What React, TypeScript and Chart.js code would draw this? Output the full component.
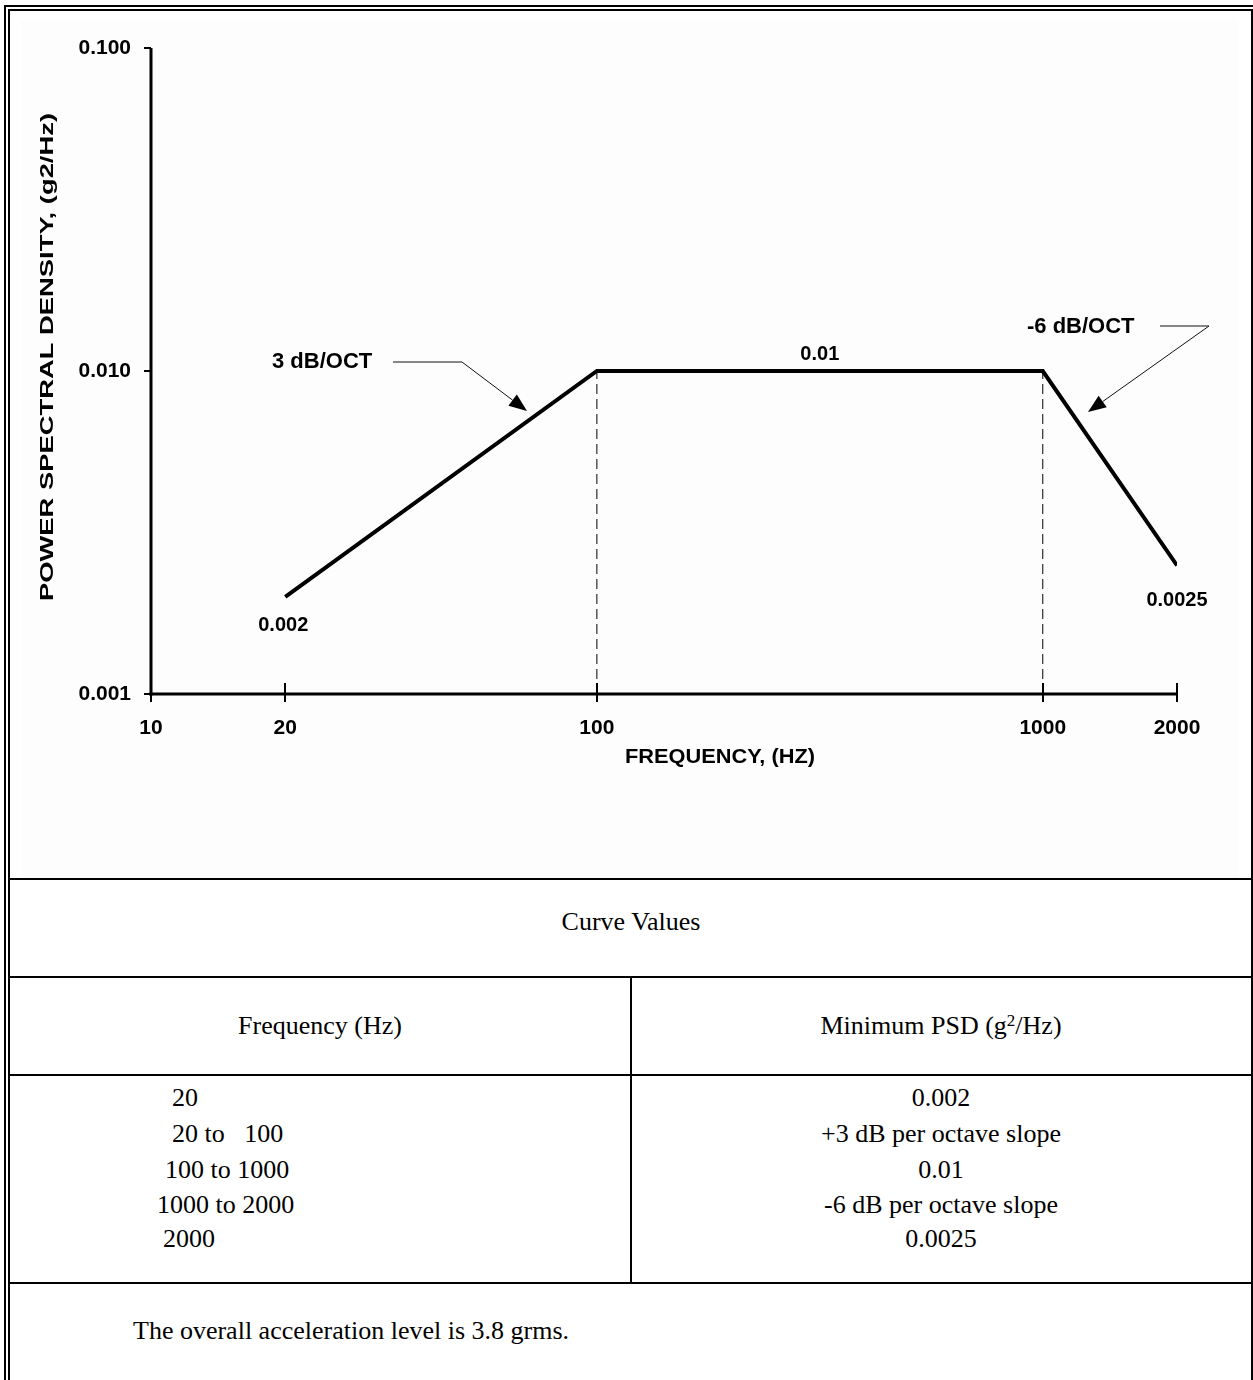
import React, { useEffect, useRef } from "react";
import { Chart, registerables } from "chart.js";

Chart.register(...registerables);

// Test curve breakpoints: frequency (Hz) and minimum PSD (g^2/Hz)
const frequencies = [20, 100, 1000, 2000];
const psdLevels = [0.002, 0.01, 0.01, 0.0025];
// Knee frequencies that get dashed drop lines to the axis
const kneeFrequencies = [100, 1000];
const plateauLevel = 0.01;

const xTicks = [10, 20, 100, 1000, 2000];
const yTicks = [0.001, 0.01, 0.1];
const yTickLabels = ["0.001", "0.010", "0.100"];
const slopeLabels = ["3 dB/OCT", "-6 dB/OCT"];

const tableFrequencies = ["20", "20 to   100", "100 to 1000", "1000 to 2000", "2000"];
const tableFreqIndent = [172, 172, 165, 157, 163];
const tablePsd = ["0.002", "+3 dB per octave slope", "0.01", "-6 dB per octave slope", "0.0025"];

const SANS = '"Liberation Sans", Arial, sans-serif';
const SERIF = '"Liberation Serif", "Times New Roman", serif';

function drawArrow(ctx: CanvasRenderingContext2D, pts: [number, number][]) {
  const n = pts.length;
  const [tx, ty] = pts[n - 1];
  const [px, py] = pts[n - 2];
  const ang = Math.atan2(ty - py, tx - px);
  const headLen = 18;
  const headHalf = 7;
  const bx = tx - Math.cos(ang) * headLen;
  const by = ty - Math.sin(ang) * headLen;
  ctx.save();
  ctx.strokeStyle = "#111";
  ctx.lineWidth = 1;
  ctx.beginPath();
  ctx.moveTo(pts[0][0], pts[0][1]);
  for (let i = 1; i < n - 1; i++) ctx.lineTo(pts[i][0], pts[i][1]);
  ctx.lineTo(bx, by);
  ctx.stroke();
  ctx.fillStyle = "#000";
  ctx.beginPath();
  ctx.moveTo(tx, ty);
  ctx.lineTo(bx + Math.sin(ang) * headHalf, by - Math.cos(ang) * headHalf);
  ctx.lineTo(bx - Math.sin(ang) * headHalf, by + Math.cos(ang) * headHalf);
  ctx.closePath();
  ctx.fill();
  ctx.restore();
}

function stretchedText(
  ctx: CanvasRenderingContext2D,
  text: string,
  cx: number,
  cy: number,
  font: string,
  targetWidth: number,
  rotate: number
) {
  ctx.save();
  ctx.font = font;
  ctx.fillStyle = "#000";
  ctx.textAlign = "center";
  ctx.textBaseline = "middle";
  const w = ctx.measureText(text).width;
  ctx.translate(cx, cy);
  ctx.rotate(rotate);
  ctx.scale(targetWidth / w, 1);
  ctx.fillText(text, 0, 0);
  ctx.restore();
}

const axesAndNotes = {
  id: "axesAndNotes",
  afterDraw(chart: any) {
    const { ctx, chartArea: ca } = chart;
    const xs = chart.scales.x;
    const ys = chart.scales.y;
    ctx.save();
    ctx.fillStyle = "#000";

    // axis lines
    ctx.fillRect(ca.left - 1.5, ca.top, 3, ca.bottom - ca.top + 1.5);
    ctx.fillRect(ca.left - 1.5, ca.bottom - 1.5, ca.right - ca.left + 1.5, 3);

    // y ticks (outward, left)
    yTicks.forEach((v) => {
      const y = ys.getPixelForValue(v);
      ctx.fillRect(ca.left - 7, Math.round(y) - 1, 7, 2);
    });
    // x ticks (crossing the axis)
    xTicks.forEach((v, i) => {
      const x = xs.getPixelForValue(v);
      const up = i === 0 ? 0 : 11;
      ctx.fillRect(Math.round(x) - 1, ca.bottom - up, 2, up + 8);
    });

    // axis titles
    stretchedText(ctx, "FREQUENCY, (HZ)", ca.left + 569, ca.bottom + 63, `bold 20px ${SANS}`, 190, 0);
    stretchedText(
      ctx,
      "POWER SPECTRAL DENSITY, (g2/Hz)",
      ca.left - 103,
      ca.top + 309,
      `bold 18px ${SANS}`,
      488,
      -Math.PI / 2
    );

    // value labels at the curve breakpoints
    ctx.font = `bold 20px ${SANS}`;
    ctx.textAlign = "center";
    ctx.textBaseline = "middle";
    const p0x = xs.getPixelForValue(frequencies[0]);
    const p0y = ys.getPixelForValue(psdLevels[0]);
    ctx.fillText(String(psdLevels[0]), p0x - 2, p0y + 29);

    const midF = Math.sqrt(frequencies[1] * frequencies[2]);
    ctx.fillText(String(plateauLevel), xs.getPixelForValue(midF), ys.getPixelForValue(plateauLevel) - 17);

    const last = frequencies.length - 1;
    ctx.fillText(
      String(psdLevels[last]),
      xs.getPixelForValue(frequencies[last]),
      ys.getPixelForValue(psdLevels[last]) + 35
    );

    // slope call-outs
    ctx.textAlign = "left";
    ctx.font = `bold 22px ${SANS}`;
    ctx.fillText(slopeLabels[0], ca.left + 121, ca.top + 314);
    ctx.fillText(slopeLabels[1], ca.left + 876, ca.top + 279);
    drawArrow(ctx, [
      [ca.left + 242, ca.top + 314],
      [ca.left + 311, ca.top + 314],
      [ca.left + 376, ca.top + 363],
    ]);
    drawArrow(ctx, [
      [ca.left + 1009, ca.top + 278],
      [ca.left + 1058, ca.top + 278],
      [ca.left + 937, ca.top + 364],
    ]);
    ctx.restore();
  },
};

function PsdChart() {
  const ref = useRef<HTMLCanvasElement | null>(null);
  useEffect(() => {
    if (!ref.current) return;
    const tickFont = { family: SANS, size: 21, weight: "bold" as const };
    const chart = new Chart(ref.current, {
      type: "line",
      data: {
        datasets: [
          {
            data: frequencies.map((f, i) => ({ x: f, y: psdLevels[i] })),
            borderColor: "#000",
            borderWidth: 4,
            pointRadius: 0,
            tension: 0,
            borderJoinStyle: "miter",
          },
          ...kneeFrequencies.map((f) => ({
            data: [
              { x: f, y: yTicks[0] },
              { x: f, y: plateauLevel },
            ],
            borderColor: "#000",
            borderWidth: 1,
            borderDash: [10, 5],
            pointRadius: 0,
          })),
        ],
      },
      options: {
        animation: false,
        responsive: false,
        maintainAspectRatio: false,
        devicePixelRatio: 1,
        layout: { padding: { left: 0, top: 28, right: 61, bottom: 0 } },
        plugins: { legend: { display: false }, tooltip: { enabled: false } },
        scales: {
          x: {
            type: "logarithmic",
            min: xTicks[0],
            max: xTicks[xTicks.length - 1],
            grid: { display: false },
            border: { display: false },
            afterBuildTicks: (s: any) => {
              s.ticks = xTicks.map((v) => ({ value: v }));
            },
            afterFit: (s: any) => {
              s.height = 183;
            },
            ticks: {
              autoSkip: false,
              maxRotation: 0,
              padding: 14,
              color: "#000",
              font: tickFont,
              callback: (v: any) => String(v),
            },
          },
          y: {
            type: "logarithmic",
            min: yTicks[0],
            max: yTicks[yTicks.length - 1],
            grid: { display: false },
            border: { display: false },
            afterBuildTicks: (s: any) => {
              s.ticks = yTicks.map((v) => ({ value: v }));
            },
            afterFit: (s: any) => {
              s.width = 130;
            },
            ticks: {
              autoSkip: false,
              padding: 12,
              color: "#000",
              font: tickFont,
              callback: (v: any) => yTickLabels[yTicks.indexOf(Number(v))] ?? "",
            },
          },
        },
      } as any,
      plugins: [axesAndNotes],
    });
    return () => chart.destroy();
  }, []);
  return (
    <canvas
      ref={ref}
      width={1217}
      height={857}
      style={{ position: "absolute", left: 21, top: 20, width: 1217, height: 857, background: "#fdfdfd" }}
    />
  );
}

const line = (left: number, top: number, width: number, height: number) => (
  <div style={{ position: "absolute", left, top, width, height, background: "#000" }} />
);

function textAt(content: React.ReactNode, cy: number, opts: { cx?: number; left?: number }, key?: string) {
  const style: React.CSSProperties = {
    position: "absolute",
    top: cy,
    fontSize: 26,
    lineHeight: "30px",
    whiteSpace: "pre",
    transform: opts.cx !== undefined ? "translate(-50%, -50%)" : "translateY(-50%)",
    left: opts.cx !== undefined ? opts.cx : opts.left,
  };
  return (
    <div key={key} style={style}>
      {content}
    </div>
  );
}

export default function App() {
  const rowY = [1098, 1134, 1170, 1205, 1239];
  return (
    <div
      style={{
        position: "absolute",
        left: 0,
        top: 0,
        width: 1253,
        height: 1380,
        overflow: "hidden",
        background: "#fff",
        color: "#000",
        fontFamily: SERIF,
      }}
    >
      {line(4, 5, 1249, 2)}
      {line(8, 9, 1245, 2)}
      {line(4, 5, 2, 1375)}
      {line(8, 9, 2, 1371)}
      {line(1251, 9, 2, 1371)}
      <PsdChart />
      {line(10, 878, 1241, 2)}
      {line(10, 976, 1241, 2)}
      {line(10, 1074, 1241, 2)}
      {line(10, 1282, 1241, 2)}
      {line(630, 976, 2, 308)}
      {textAt("Curve Values", 922, { cx: 631 })}
      {textAt("Frequency (Hz)", 1026, { cx: 320 })}
      {textAt(
        <span>
          Minimum PSD (g<sup style={{ fontSize: 17, verticalAlign: "8px", lineHeight: 0 }}>2</sup>/Hz)
        </span>,
        1026,
        { cx: 941 }
      )}
      {tableFrequencies.map((t, i) => textAt(t, rowY[i], { left: tableFreqIndent[i] }, "f" + i))}
      {tablePsd.map((t, i) => textAt(t, rowY[i], { cx: 941 }, "p" + i))}
      {textAt("The overall acceleration level is 3.8 grms.", 1331, { left: 133 })}
    </div>
  );
}
